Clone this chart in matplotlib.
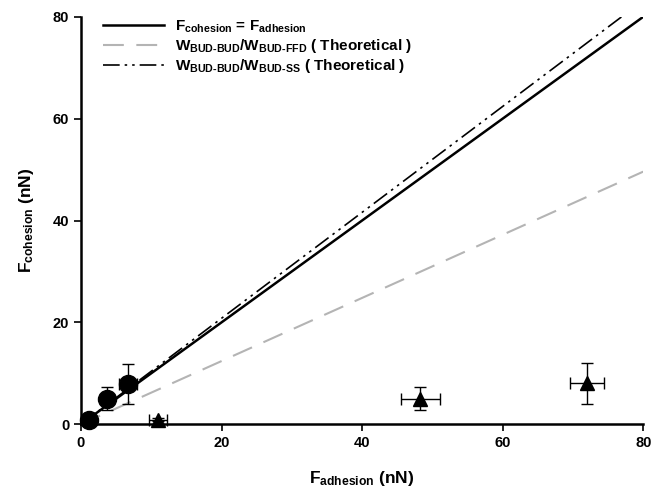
import numpy as np
import matplotlib.pyplot as plt

plt.rcParams['font.family'] = 'Liberation Sans'
plt.rcParams['font.weight'] = 'bold'
plt.rcParams['mathtext.fontset'] = 'custom'
plt.rcParams['mathtext.rm'] = 'Liberation Sans:bold'
plt.rcParams['mathtext.bf'] = 'Liberation Sans:bold'
plt.rcParams['mathtext.default'] = 'bf'

# measured points (nN)
circ_x = [1.1, 3.7, 6.7]
circ_y = [0.9, 5.0, 7.9]
circ_xerr = [0.4, 0.6, 1.3]
circ_yerr = [0.4, 2.3, 3.9]

tri_x = [11.0, 48.3, 72.0]
tri_y = [0.9, 5.0, 8.0]
tri_xerr = [1.3, 2.8, 2.4]
tri_yerr = [0.3, 2.3, 4.0]

# theoretical slopes
slope_ffd = 0.62
slope_ss = 1.04

x_line = np.array([0, 80])

fig = plt.figure(figsize=(6.53, 4.95), dpi=100)
ax = fig.add_axes([0.124, 0.143, 0.861, 0.823])

ax.plot(x_line, x_line, color='black', lw=1.8,
        label=r'F$_{cohesion}$ = F$_{adhesion}$')
ax.plot(x_line, slope_ffd * x_line, color='#b4b4b4', lw=1.5, dashes=(10, 6),
        label=r'W$_{BUD\text{-}BUD}$/W$_{BUD\text{-}FFD}$ ( Theoretical )')
ax.plot(x_line, slope_ss * x_line, color='black', lw=1.2, dashes=(10, 3, 1.5, 3, 1.5, 3),
        label=r'W$_{BUD\text{-}BUD}$/W$_{BUD\text{-}SS}$ ( Theoretical )')

ax.errorbar(circ_x, circ_y, xerr=circ_xerr, yerr=circ_yerr, fmt='o', color='black',
            ms=13, elinewidth=1, capsize=4, clip_on=False, zorder=5)
ax.errorbar(tri_x, tri_y, xerr=tri_xerr, yerr=tri_yerr, fmt='^', color='black',
            ms=10, elinewidth=1, capsize=4, clip_on=False, zorder=5)

ax.set_xlim(0, 80)
ax.set_ylim(0, 80)
ax.set_xticks([0, 20, 40, 60, 80])
ax.set_yticks([0, 20, 40, 60, 80])
ax.spines['top'].set_visible(False)
ax.spines['right'].set_visible(False)
ax.spines['left'].set_linewidth(1.8)
ax.spines['bottom'].set_linewidth(1.8)
ax.tick_params(direction='out', length=5, width=1.2, labelsize=10.5)

ax.set_xlabel(r'F$_{adhesion}$ (nN)', fontsize=12.5, fontweight='bold', labelpad=14)
ax.set_ylabel(r'F$_{cohesion}$ (nN)', fontsize=12.5, fontweight='bold', labelpad=12)

ax.legend(loc='upper left', frameon=False, fontsize=11, handlelength=4.0,
          bbox_to_anchor=(0.015, 1.03), labelspacing=0.15, handletextpad=0.7)

fig.savefig('out.png', dpi=100)
